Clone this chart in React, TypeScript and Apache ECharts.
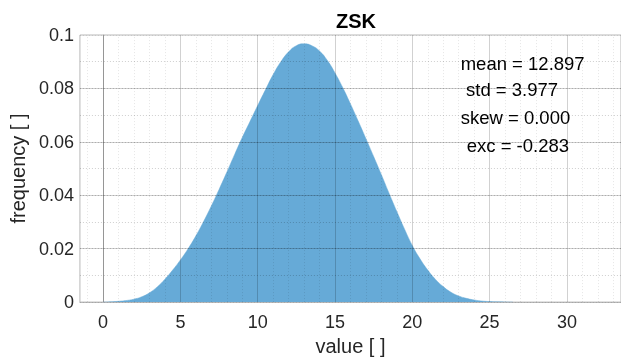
import React, { useEffect, useRef } from "react";
import * as echarts from "echarts";

// Histogram shape (bin centre -> frequency)
const binCenters = [
  0, 0.5, 1, 1.5, 2, 2.5, 3, 3.5, 4, 4.5, 5, 5.5, 6, 6.5, 7, 7.5, 8, 8.5, 9, 9.5,
  10, 10.5, 11, 11.5, 12, 12.5, 13, 13.5, 14, 14.5, 15, 15.5, 16, 16.5, 17, 17.5,
  18, 18.5, 19, 19.5, 20, 20.5, 21, 21.5, 22, 22.5, 23, 23.5, 24, 24.5, 25, 25.5,
  26, 26.5,
];
const frequency = [
  0, 0.0001, 0.0003, 0.0006, 0.0011, 0.002, 0.0035, 0.0057, 0.0086, 0.012,
  0.0158, 0.02, 0.0248, 0.0302, 0.036, 0.0422, 0.0486, 0.0552, 0.0616, 0.0676,
  0.0736, 0.0795, 0.0852, 0.09, 0.0937, 0.096, 0.0967, 0.096, 0.094, 0.0905,
  0.0858, 0.0803, 0.0742, 0.0678, 0.0612, 0.0545, 0.0477, 0.0407, 0.0339, 0.0273,
  0.0212, 0.0162, 0.012, 0.0085, 0.0058, 0.0037, 0.0023, 0.0014, 0.0008, 0.0004,
  0.0002, 0.0001, 0.00004, 0,
];

const xTickValues = [0, 5, 10, 15, 20, 25, 30];
const yTickValues = [0, 0.02, 0.04, 0.06, 0.08, 0.1];
const statLines = ["mean = 12.897", "std = 3.977", "skew = 0.000", "exc = -0.283"];
const titleText = "ZSK";
const xName = "value [ ]";
const yName = "frequency [ ]";

const FONT = "'Liberation Sans', Arial, Helvetica, sans-serif";

export default function App() {
  const ref = useRef<HTMLDivElement>(null);

  useEffect(() => {
    if (!ref.current) return;
    const chart = echarts.init(ref.current, null, { renderer: "svg" });

    const majorStyle = { color: "rgba(0,0,0,0.18)", width: 1, type: "solid" };
    const minorStyle = { color: "rgba(0,0,0,0.1)", width: 1, type: [1, 2] };

    const xMinor: number[] = [];
    for (let i = -1; i <= 33; i++) if (i % 5 !== 0) xMinor.push(i);
    const yMinor: number[] = [];
    for (let i = 1; i < 25; i++) if (i % 5 !== 0) yMinor.push(+(i * 0.004).toFixed(3));

    const gridLines: any[] = [
      ...xMinor.map((v) => ({ xAxis: v, lineStyle: minorStyle })),
      ...yMinor.map((v) => ({ yAxis: v, lineStyle: minorStyle })),
      ...xTickValues.map((v) => ({ xAxis: v, lineStyle: majorStyle })),
      ...yTickValues.filter((v) => v > 0 && v < 0.1).map((v) => ({ yAxis: v, lineStyle: majorStyle })),
    ];

    const statX = [460.7, 466, 460.7, 466.7];
    const statY = [64, 90.7, 118, 146];

    chart.setOption({
      animation: false,
      title: {
        text: titleText,
        left: 351,
        top: 6,
        textAlign: "center",
        textStyle: { fontFamily: FONT, fontSize: 20, fontWeight: "bold", color: "#000" },
      },
      grid: {
        left: 78,
        top: 35,
        right: -5,
        bottom: 53,
        show: true,
        borderColor: "#b8b8b8",
        borderWidth: 1,
        backgroundColor: "#fff",
      },
      xAxis: {
        type: "value",
        min: -1.5,
        max: 33.5,
        name: xName,
        nameLocation: "middle",
        nameGap: 33,
        nameTextStyle: { fontFamily: FONT, fontSize: 20, color: "#262626" },
        axisLine: { show: true, lineStyle: { color: "#b8b8b8" } },
        axisTick: { show: false, customValues: xTickValues },
        splitLine: { show: false },
        axisLabel: {
          customValues: xTickValues,
          margin: 11,
          fontFamily: FONT,
          fontSize: 18,
          color: "#262626",
        },
      },
      yAxis: {
        type: "value",
        min: 0,
        max: 0.1,
        interval: 0.02,
        name: yName,
        nameLocation: "middle",
        nameGap: 40,
        nameTextStyle: { fontFamily: FONT, fontSize: 20, color: "#262626" },
        axisLine: { show: true, lineStyle: { color: "#b8b8b8" } },
        axisTick: { show: false },
        splitLine: { show: false },
        axisLabel: {
          margin: 6,
          fontFamily: FONT,
          fontSize: 18,
          color: "#262626",
          formatter: (v: number) => String(+v.toFixed(3)),
        },
      },
      series: [
        {
          type: "line",
          name: "frequency",
          data: binCenters.map((x, i) => [x, frequency[i]]),
          smooth: 0.5,
          symbol: "none",
          lineStyle: { width: 0.5, color: "#66aad7" },
          areaStyle: { color: "#66aad7", opacity: 1 },
          z: 2,
          silent: true,
        },
        {
          type: "line",
          name: "grid",
          data: [[0, 0]],
          symbol: "none",
          lineStyle: { opacity: 0 },
          z: 5,
          silent: true,
          markLine: {
            silent: true,
            symbol: ["none", "none"],
            label: { show: false },
            data: gridLines,
          },
        },
      ],
      graphic: statLines.map((t, i) => ({
        type: "text",
        left: statX[i],
        top: statY[i] - 10.5,
        z: 100,
        style: { text: t, fontFamily: FONT, fontSize: 18.5, fill: "#000" },
      })),
    });

    return () => chart.dispose();
  }, []);

  return (
    <div
      ref={ref}
      style={{ position: "fixed", left: 0, top: 0, width: 621, height: 361 }}
    />
  );
}
